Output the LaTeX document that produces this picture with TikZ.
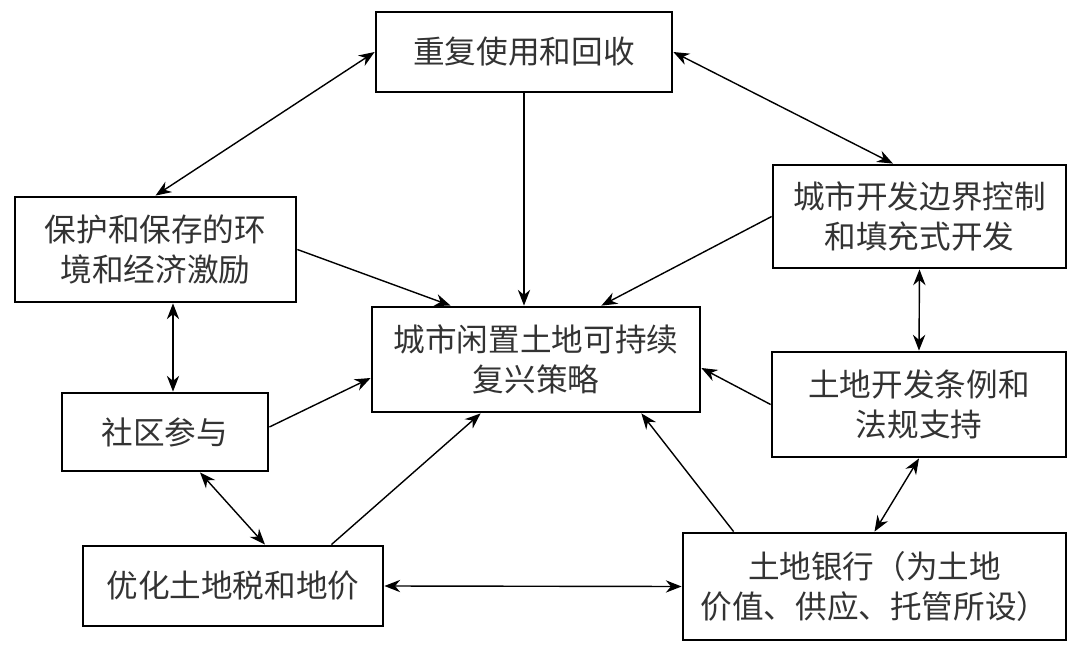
\documentclass[tikz,border=0pt]{standalone}
\usepackage{fontspec}
\setmainfont{Noto Sans CJK SC}
\usetikzlibrary{arrows.meta}
\begin{document}
\begin{tikzpicture}[x=0.02cm,y=-0.02cm,
  box/.style={draw,line width=1.6pt,align=center,inner sep=0pt,
    font=\fontsize{18}{23}\selectfont,text=black!80},
  link/.style={line width=0.8pt,-{Stealth[length=9pt,width=7pt]}},
  dlink/.style={line width=0.8pt,{Stealth[length=9pt,width=7pt]}-{Stealth[length=9pt,width=7pt]}}]
\useasboundingbox (0,0) rectangle (1080,649);
% boxes
\node[box,minimum width=5.92cm,minimum height=1.6cm] (reuse) at (524,52) {重复使用和回收};
\node[box,minimum width=5.62cm,minimum height=2.1cm] (protect) at (155.5,249.5) {保护和保存的环\\境和经济激励};
\node[box,minimum width=5.86cm,minimum height=2.06cm] (bound) at (919.5,216.5) {城市开发边界控制\\和填充式开发};
\node[box,minimum width=6.56cm,minimum height=2.1cm] (center) at (536,359.5) {城市闲置土地可持续\\复兴策略};
\node[box,minimum width=5.88cm,minimum height=2.1cm] (rule) at (919,404.5) {土地开发条例和\\法规支持};
\node[box,minimum width=4.12cm,minimum height=1.56cm] (commun) at (165,432) {社区参与};
\node[box,minimum width=6cm,minimum height=1.6cm] (tax) at (233,586) {优化土地税和地价};
\node[box,minimum width=7.66cm,minimum height=2.14cm] (bank) at (874.5,586.5) {土地银行（为土地\\价值、供应、托管所设）};
% connectors
\draw[dlink] (reuse.west) -- (protect.north);
\draw[link] (reuse.south) -- (reuse.south |- center.north);
\draw[dlink] (reuse.east) -- ([xshift=-0.53cm]bound.north);
\draw[link] (protect.east) -- ([xshift=1.6cm]center.north west);
\draw[link] (bound.west) -- ([xshift=-2cm]center.north east);
\draw[dlink] ([xshift=0.16cm]commun.north |- protect.south) -- ([xshift=0.16cm]commun.north);
\draw[dlink] (bound.south) -- (rule.north);
\draw[link] ([yshift=0.1cm]commun.east) -- ([yshift=-0.37cm]center.west);
\draw[link] (rule.west) -- ([yshift=-0.17cm]center.east);
\draw[dlink] ([xshift=0.7cm]commun.south) -- ([xshift=0.64cm]tax.north);
\draw[link] ([xshift=-1.06cm]tax.north east) -- ([xshift=2.2cm]center.south west);
\draw[link] ([xshift=1.04cm]bank.north west) -- ([xshift=-1.2cm]center.south east);
\draw[dlink] (rule.south) -- (bank.north);
\draw[dlink] (tax.east) -- (bank.west);
\end{tikzpicture}
\end{document}
